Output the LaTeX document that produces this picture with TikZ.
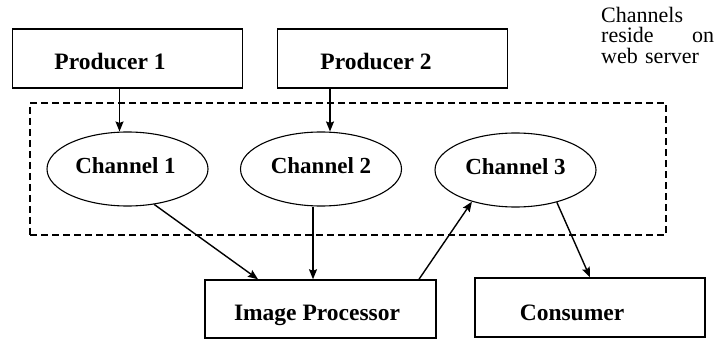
\documentclass[tikz,border=0pt]{standalone}
\usepackage{fontspec}
\setmainfont{Liberation Serif}
\usetikzlibrary{shapes.geometric,arrows.meta}
\begin{document}
\begin{tikzpicture}[x=1pt,y=-1pt,
  box/.style={draw,line width=1.5pt,rectangle,inner sep=0pt,minimum width=230pt,minimum height=59pt,text depth=0pt,font=\fontsize{23.5}{26}\selectfont\bfseries},
  chan/.style={draw,line width=1.1pt,ellipse,inner sep=0pt,minimum width=161pt,minimum height=74pt,text height=9pt,text depth=0pt,font=\fontsize{23}{26}\selectfont\bfseries},
  arr/.style={line width=1.4pt,-{Stealth[length=10pt,width=8pt,inset=1.5pt]}},
  server/.style={draw,line width=1.3pt,dash pattern=on 7pt off 4pt,inner sep=0pt,minimum width=636pt,minimum height=132pt}
]
\useasboundingbox (0,0) rectangle (714,339);
\node[server] (srv) at (348,169) {};
\node[box,text height=23pt] (p1) at (127.5,58.5) {\hspace*{-35pt}Producer 1};
\node[box,text height=23pt] (p2) at (392.5,58.5) {\hspace*{-33pt}Producer 2};
\node[chan] (c1) at (127.5,169) {\hspace*{-4pt}Channel 1};
\node[chan] (c2) at (321,169) {Channel 2};
\node[chan] (c3) at (515.5,170) {Channel 3};
\node[box,minimum width=231pt,minimum height=58pt,text height=22pt] (ip) at (320.5,309) {\hspace*{-7pt}Image Processor};
\node[box,minimum width=230pt,minimum height=59pt,text height=25pt] (co) at (590,307.5) {\hspace*{-36pt}Consumer};
\node[anchor=north west,inner sep=0pt,text width=113pt,align=left,font=\fontsize{22}{20.5}\selectfont] (note) at (601,7) {Channels\\reside\hfill on\\web server};
\draw[arr] ([xshift=-8pt]p1.south) -- ([xshift=-8pt]c1.north);
\draw[arr] ([xshift=-62.5pt]p2.south) -- ([xshift=9pt]c2.north);
\draw[arr] (c1.-53) -- ([xshift=-62.5pt]ip.north);
\draw[arr] ([xshift=-8pt]c2.south) -- ([xshift=-7.5pt]ip.north);
\draw[arr] ([xshift=98.5pt]ip.north) -- (c3.-144);
\draw[arr] (c3.-38) -- (co.north);
\end{tikzpicture}
\end{document}
